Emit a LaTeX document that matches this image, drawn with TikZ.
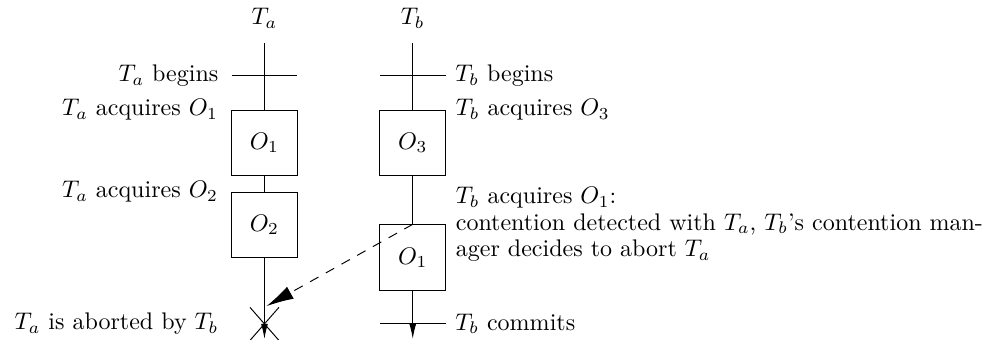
\documentclass[tikz,border=0pt]{standalone}
\usepackage{amsmath, amssymb}
\usepackage{tikz}
\usetikzlibrary{
arrows.meta,
positioning,
shapes.misc
}

\begin{document}
\begin{tikzpicture}[
  objbox/.style={draw, minimum width=0.96cm, minimum height=0.96cm, inner sep=0pt},
  evt/.style={font=\normalsize},
  kill/.style={draw, cross out, minimum width=0.41cm, minimum height=0.47cm, inner sep=0pt},
  >={Latex[length=2.2mm, width=1mm]}
]
  \useasboundingbox (0,0) rectangle (14.4,-4.975);

  % Transaction headers and line tops
  \node (ta) at (3.87,-0.27) {$T_a$};
  \node (tb) at (6.04,-0.27) {$T_b$};
  \coordinate (ta0) at (3.87,-0.63);
  \coordinate (tb0) at (6.04,-0.63);

  % Objects held
  \node[objbox] (o1a) at (3.87,-2.09) {$O_1$};
  \node[objbox] (o2a) at (3.87,-3.29) {$O_2$};
  \node[objbox] (o3b) at (6.04,-2.09) {$O_3$};
  \node[objbox] (o1b) at (6.04,-3.77) {$O_1$};

  % Begin ticks
  \coordinate (tabl) at (3.39,-1.11);
  \coordinate (tabr) at (4.35,-1.11);
  \coordinate (tbbl) at (5.56,-1.11);
  \coordinate (tbbr) at (6.52,-1.11);
  \draw (tabl) -- (tabr);
  \draw (tbbl) -- (tbbr);

  % End of each transaction
  \coordinate (taend) at (3.87,-4.96);
  \coordinate (tbend) at (6.04,-4.96);
  \coordinate (tacl) at (3.39,-4.74);
  \coordinate (tbcl) at (5.56,-4.74);
  \coordinate (tbcr) at (6.52,-4.74);
  \node[kill] (abort) at (3.87,-4.74) {};
  \draw (tbcl) -- (tbcr);

  % Time lines
  \draw (ta0) -- (o1a);
  \draw (o1a) -- (o2a);
  \draw[->] (o2a) -- (taend);
  \draw (tb0) -- (o3b);
  \draw (o3b) -- (o1b);
  \draw[->] (o1b) -- (tbend);

  % Abort request
  \coordinate (hit) at (3.90,-4.48);
  \draw[dash pattern=on 4pt off 3.5pt, -{Latex[length=4mm, width=2mm]}] (o1b.north) -- (hit);

  % Event labels, left side
  \node[evt, left=0.07cm of tabl] {$T_a$ begins};
  \node[evt, left=0.07cm of o1a.north west] {$T_a$ acquires $O_1$};
  \node[evt, left=0.07cm of o2a.north west] {$T_a$ acquires $O_2$};
  \node[evt, left=0.07cm of tacl] {$T_a$ is aborted by $T_b$};

  % Event labels, right side
  \node[evt, right=0.02cm of tbbr] {$T_b$ begins};
  \node[evt, right=0.02cm of o3b.north east] {$T_b$ acquires $O_3$};
  \node[evt, right=0.02cm of o1b.north east, align=left, font=\fontsize{10}{11}\selectfont] {$T_b$ acquires $O_1$:\\
    contention detected with $T_a$, $T_b$'s contention man-\\ager decides to abort $T_a$};
  \node[evt, right=0.02cm of tbcr] {$T_b$ commits};

\end{tikzpicture}
\end{document}
